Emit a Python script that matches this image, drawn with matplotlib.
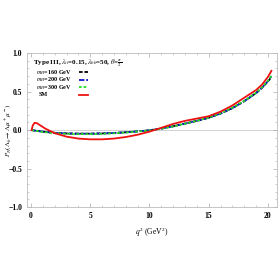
import matplotlib
matplotlib.use("Agg")
import matplotlib.pyplot as plt
from matplotlib.lines import Line2D
from matplotlib.ticker import MultipleLocator
import numpy as np

# q^2 sample points (GeV^2)
q2_sm = [0.05, 0.15, 0.3, 0.5, 0.8, 1.2, 1.6, 2.0, 3.0, 4.0, 5.0, 6.0, 7.0, 8.0, 9.0,
         10.0, 11.0, 12.0, 13.0, 14.0, 15.0, 16.0, 17.0, 18.0, 19.0, 19.5, 20.0, 20.3]
p_sm = [0.0, 0.06, 0.095, 0.09, 0.06, 0.02, -0.01, -0.04, -0.085, -0.11, -0.12, -0.12,
        -0.11, -0.09, -0.06, -0.02, 0.03, 0.08, 0.12, 0.15, 0.18, 0.24, 0.32, 0.42, 0.52,
        0.59, 0.69, 0.77]

q2_h = [0.05, 0.5, 1.0, 2.0, 3.0, 4.0, 5.0, 6.0, 7.0, 8.0, 9.0, 10.0, 11.0, 12.0,
        13.0, 14.0, 15.0, 16.0, 17.0, 18.0, 19.0, 19.5, 20.0, 20.3]
p_160 = [0.0, -0.01, -0.02, -0.035, -0.043, -0.046, -0.046, -0.043, -0.037, -0.028,
         -0.016, -0.002, 0.02, 0.05, 0.085, 0.12, 0.16, 0.215, 0.285, 0.375, 0.48, 0.55,
         0.63, 0.69]
p_200 = [0.0, -0.01, -0.02, -0.036, -0.044, -0.047, -0.047, -0.044, -0.038, -0.029,
         -0.017, -0.003, 0.019, 0.049, 0.084, 0.12, 0.16, 0.215, 0.285, 0.375, 0.48, 0.55,
         0.635, 0.70]
p_300 = [0.0, -0.012, -0.024, -0.04, -0.048, -0.052, -0.052, -0.048, -0.042, -0.032,
         -0.019, -0.004, 0.018, 0.048, 0.083, 0.12, 0.162, 0.218, 0.29, 0.38, 0.485, 0.555,
         0.64, 0.705]

labels = [r"$m_H$=160 GeV", r"$m_H$=200 GeV", r"$m_H$=300 GeV", "SM"]
colors = ['black', '#1010cc', '#22dd22', '#ee1111']
styles = [(0, (2, 1)), (0, (3, 1)), (0, (1.5, 1)), '-']
title = r"Type III, $\lambda_{tt}$=0.15, $\lambda_{bb}$=50, $\theta$=$\frac{\pi}{2}$"
xticks = [0, 5, 10, 15, 20]
xticklabels = ['0', '5', '10', '15', '20']
yticks = [-1.0, -0.5, 0.0, 0.5, 1.0]
yticklabels = ['\u22121.0', '\u22120.5', '0.0', '0.5', '1.0']

plt.rcParams['font.family'] = ['Liberation Serif', 'DejaVu Serif']
plt.rcParams['mathtext.fontset'] = 'stix'

fig = plt.figure(figsize=(2.78, 2.78), dpi=100)
ax = fig.add_axes([0.097, 0.255, 0.899, 0.554])

series = [(q2_h, p_160), (q2_h, p_200), (q2_h, p_300), (q2_sm, p_sm)]
for (x, y), c, s in zip(series, colors, styles):
    ax.plot(x, y, color=c, lw=1.3, ls=s)

ax.axhline(0, color='#cccccc', lw=0.6, zorder=0)

ax.set_xlim(-0.34, 20.76)
ax.set_ylim(-1.0, 1.0)
ax.xaxis.set_minor_locator(MultipleLocator(1))
ax.yaxis.set_minor_locator(MultipleLocator(0.1))
ax.set_xticks(xticks)
ax.set_xticklabels(xticklabels, fontweight='bold')
ax.set_yticks(yticks)
ax.set_yticklabels(yticklabels, fontweight='bold')
ax.tick_params(which='both', direction='in', top=True, right=True, color='#aaaaaa',
               labelsize=5.5)
ax.tick_params(which='major', length=3, width=0.5)
ax.tick_params(which='minor', length=1.5, width=0.4)
for s in ax.spines.values():
    s.set_color('#bbbbbb')
    s.set_linewidth(0.6)

ax.set_xlabel(r"$q^2$ (GeV$^2$)", fontsize=5.5, labelpad=4)
ax.set_ylabel(r"$P_N(\Lambda_b\to\Lambda\mu^+\mu^-)$", fontsize=5)
ax.yaxis.set_label_coords(-0.056, 0.5)

ax.text(0.025, 0.935, title, transform=ax.transAxes, fontsize=5, fontweight='bold',
        va='center', ha='left')
row_y = [0.875, 0.826, 0.778, 0.728]
for lab, c, s, yy in zip(labels, colors, styles, row_y):
    ax.text(0.035 if lab != "SM" else 0.045, yy, lab, transform=ax.transAxes,
            fontsize=4.4, fontweight='bold', va='center', ha='left')
    ax.add_line(Line2D([0.21, 0.245], [yy, yy], transform=ax.transAxes, color=c,
                       lw=1.3, ls=s))

fig.savefig('out.png', dpi=100)
